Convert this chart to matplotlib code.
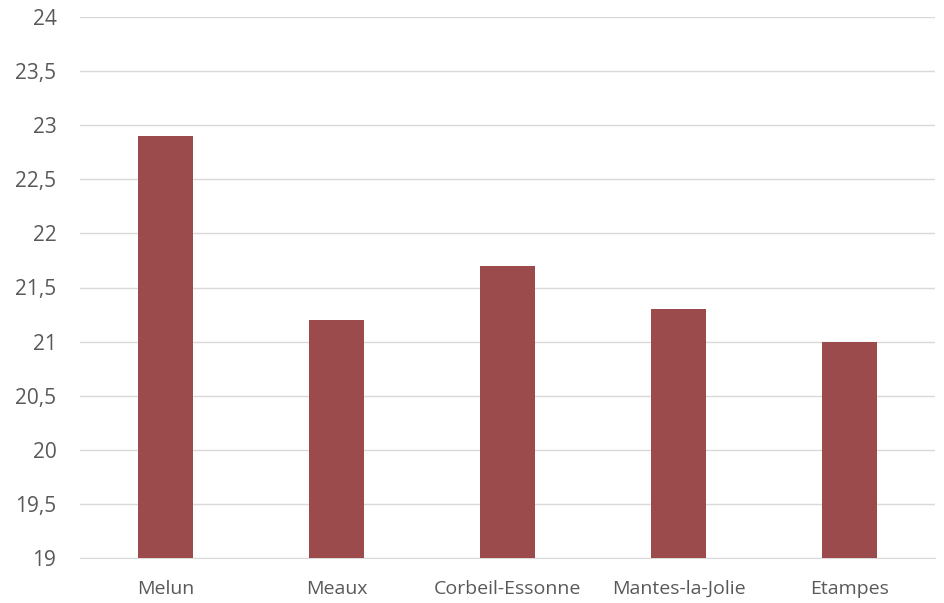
import matplotlib
matplotlib.use("Agg")
import matplotlib.pyplot as plt
from matplotlib.ticker import FuncFormatter, MultipleLocator

categories = ["Melun", "Meaux", "Corbeil-Essonne", "Mantes-la-Jolie", "Etampes"]
values = [22.9, 21.2, 21.7, 21.3, 21.0]

plt.rcParams['font.family'] = ['Open Sans', 'DejaVu Sans']

fig = plt.figure(figsize=(9.44, 6.03), dpi=100)
ax = fig.add_axes([80/944, 1 - 558/603, 855/944, (558 - 17)/603])

x = range(len(categories))
ax.bar(x, values, width=0.32, color="#9B4B4B", zorder=3, bottom=0)
ax.set_ylim(19, 24)
ax.set_xlim(-0.5, len(categories) - 0.5)
ax.yaxis.set_major_locator(MultipleLocator(0.5))
ax.yaxis.set_major_formatter(FuncFormatter(lambda v, p: (f"{v:g}").replace(".", ",")))
ax.set_xticks(list(x))
ax.set_xticklabels(categories)
ax.grid(axis="y", color="#D9D9D9", linewidth=1, zorder=0)
for s in ["top", "right", "left"]:
    ax.spines[s].set_visible(False)
ax.spines["bottom"].set_color("#D9D9D9")
ax.tick_params(axis="both", length=0, colors="#595959")
ax.tick_params(axis="y", pad=17, labelsize=15)
ax.tick_params(axis="x", pad=16, labelsize=14)

fig.savefig("out.png", dpi=100)
